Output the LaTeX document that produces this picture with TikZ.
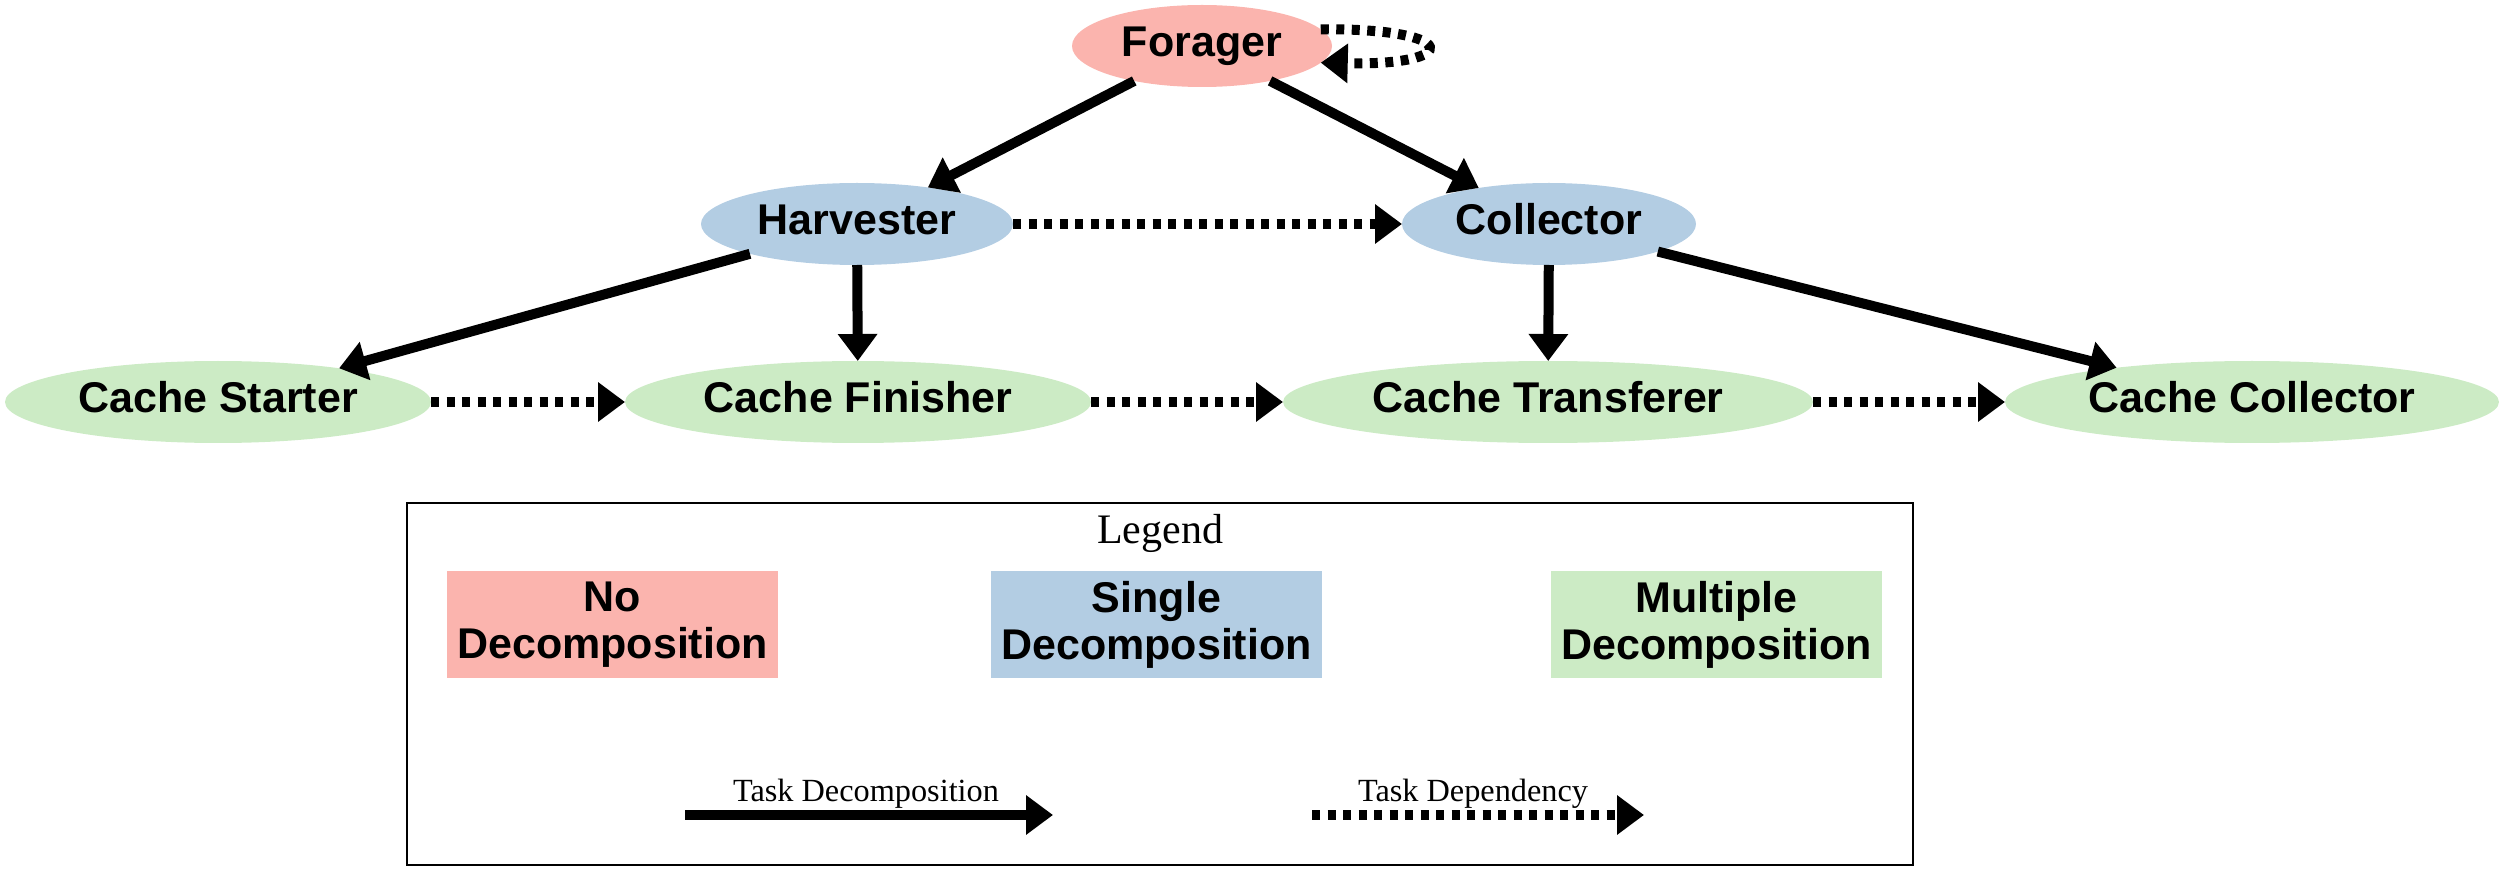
\documentclass[tikz,border=0pt]{standalone}
\usepackage{fontspec}
\setmainfont{Liberation Serif}
\newfontfamily\labelsans{Liberation Sans}
\usetikzlibrary{arrows.meta,shapes.geometric}
\definecolor{pinkc}{HTML}{FBB4AE}
\definecolor{bluec}{HTML}{B3CDE3}
\definecolor{greenc}{HTML}{CCEBC5}
\begin{document}
\begin{tikzpicture}[x=1pt,y=-1pt,
  task/.style={ellipse, inner sep=0pt, outer sep=0pt, minimum height=82pt,
    text height=30pt, text depth=8pt,
    font=\labelsans\bfseries\fontsize{43}{47}\selectfont},
  legbox/.style={rectangle, inner sep=0pt, outer sep=0pt, minimum width=331pt,
    minimum height=107pt, align=center,
    font=\labelsans\bfseries\fontsize{43}{47}\selectfont},
  decomp/.style={line width=10pt, -{Triangle[length=27pt,width=38pt]}},
  depend/.style={decomp, dash pattern=on 8pt off 7.5pt},
  smalltxt/.style={anchor=base, inner sep=0pt, font=\fontsize{32.3}{36}\selectfont},
]
\useasboundingbox (0,0) rectangle (2504,882);
% legend frame
\node[draw, line width=2pt, rectangle, inner sep=0pt, minimum width=1506pt, minimum height=362pt] (legend) at (1160,684) {};
\node[anchor=base, inner sep=0pt, font=\fontsize{42}{48}\selectfont] (legtitle) at (1160,543) {Legend};
\node[legbox, fill=pinkc] (legno) at (612.5,624.5) {No\\Decomposition};
\node[legbox, fill=bluec] (legsingle) at (1156.5,624.5) {Single\\Decomposition};
\node[legbox, fill=greenc] (legmulti) at (1716.5,624.5) {Multiple\\Decomposition};
\coordinate (dsA) at (685,815);
\coordinate (dsB) at (1053,815);
\coordinate (dpA) at (1312,815);
\coordinate (dpB) at (1644,815);
\draw[decomp] (dsA) -- (dsB);
\draw[depend] (dpA) -- (dpB);
\node[smalltxt] (ldecomp) at (866,801) {Task Decomposition};
\node[smalltxt] (ldepend) at (1473,801) {Task Dependency};
% graph nodes
\node[task, fill=pinkc, minimum width=260pt] (forager) at (1202,46) {Forager};
\node[task, fill=bluec, minimum width=312pt] (harvester) at (857,224) {Harvester};
\node[task, fill=bluec, minimum width=294pt] (collector) at (1549,224) {Collector};
\node[task, fill=greenc, minimum width=426pt] (starter) at (218,402) {Cache Starter};
\node[task, fill=greenc, minimum width=466pt] (finisher) at (858,402) {Cache Finisher};
\node[task, fill=greenc, minimum width=530pt] (transferer) at (1548,402) {Cache Transferer};
\node[task, fill=greenc, minimum width=494pt] (ccollector) at (2252,402) {Cache Collector};
% edges
\draw[decomp] (forager) -- (harvester);
\draw[decomp] (forager) -- (collector);
\draw[depend] (forager.8) .. controls (1462,28) and (1462,66) .. (forager.-8);
\draw[depend] (harvester) -- (collector);
\draw[decomp] (harvester) -- (starter);
\draw[decomp] (harvester) -- (finisher);
\draw[decomp] (collector) -- (transferer);
\draw[decomp] (collector) -- (ccollector);
\draw[depend] (starter) -- (finisher);
\draw[depend] (finisher) -- (transferer);
\draw[depend] (transferer) -- (ccollector);
\end{tikzpicture}
\end{document}
